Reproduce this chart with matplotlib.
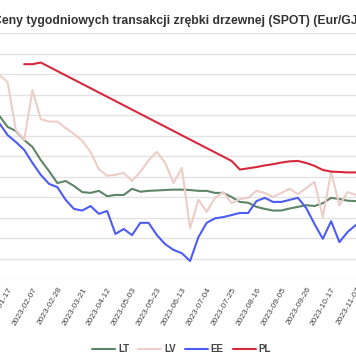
import numpy as np
import matplotlib
matplotlib.use("Agg")
import matplotlib.pyplot as plt

# Weekly categories (2023)
dates = ["2023-01-10", "2023-01-17", "2023-01-24", "2023-01-31", "2023-02-07",
         "2023-02-14", "2023-02-21", "2023-02-28", "2023-03-07", "2023-03-14",
         "2023-03-21", "2023-03-28", "2023-04-04", "2023-04-12", "2023-04-18",
         "2023-04-25", "2023-05-03", "2023-05-09", "2023-05-16", "2023-05-23",
         "2023-05-30", "2023-06-06", "2023-06-13", "2023-06-20", "2023-06-27",
         "2023-07-04", "2023-07-11", "2023-07-18", "2023-07-25", "2023-08-01",
         "2023-08-08", "2023-08-16", "2023-08-22", "2023-08-29", "2023-09-05",
         "2023-09-12", "2023-09-19", "2023-09-26", "2023-10-03", "2023-10-10",
         "2023-10-17", "2023-10-24", "2023-10-31", "2023-11-07"]

LT = [6.98, 6.71, 6.61, 6.39, 6.22, 5.90, 5.63, 5.34, 5.39, 5.27,
      5.12, 5.10, 5.15, 5.02, 5.05, 5.05, 5.20, 5.13, 5.15, 5.16,
      5.17, 5.18, 5.18, 5.17, 5.15, 5.15, 5.10, 5.10, 5.00, 4.88,
      4.86, 4.76, 4.71, 4.67, 4.67, 4.72, 4.76, 4.80, 4.78, 4.85,
      4.98, 4.95, 4.91, 4.90]

LV = [7.98, 7.80, 6.63, 6.39, 7.61, 6.90, 6.84, 6.84, 6.68, 6.54,
      6.37, 6.10, 5.68, 5.52, 5.54, 5.59, 5.39, 5.61, 5.90, 6.10,
      5.83, 5.34, 5.71, 4.24, 4.93, 4.64, 4.98, 5.12, 4.85, 4.95,
      4.98, 5.15, 5.10, 5.00, 5.10, 5.20, 5.07, 5.22, 5.37, 4.51,
      5.61, 4.80, 5.12, 5.05]

EE = [6.80, 6.51, 6.34, 6.15, 5.83, 5.54, 5.32, 5.24, 4.93, 4.71,
      4.67, 4.78, 4.59, 4.66, 4.10, 4.22, 4.07, 4.37, 4.37, 4.07,
      3.85, 3.71, 3.63, 3.44, 4.02, 4.37, 4.48, 4.51, 4.56, 4.61,
      4.61, 4.90, 4.98, 4.88, 4.88, 4.93, 4.98, 4.73, 4.34, 3.98,
      4.41, 3.90, 4.15, 4.32]

nan = np.nan
PL = [nan, nan, nan, 8.24, 8.24, 8.28, nan, nan, nan, nan,
      nan, nan, nan, nan, nan, nan, nan, nan, nan, nan,
      nan, nan, nan, nan, nan, nan, nan, nan, 5.88, 5.67,
      5.70, 5.73, 5.77, 5.80, 5.84, 5.87, 5.88, 5.83, 5.76, 5.66,
      5.62, 5.61, 5.60, 5.60]

series_names = ["LT", "LV", "EE", "PL"]
series_colors = ["#5f8567", "#eccdc7", "#4d5cf4", "#d62a3c"]

title = "Ceny tygodniowych transakcji zrębki drzewnej (SPOT) (Eur/GJ)"

fig = plt.figure(figsize=(3.56, 3.64), dpi=100)
ax = fig.add_axes([0.0, 0.2335, 1.0, 0.6758])

x = np.arange(len(dates))
for name, vals, col in zip(series_names, [LT, LV, EE, PL], series_colors):
    v = np.array(vals, dtype=float)
    m = ~np.isnan(v)
    ax.plot(x[m], v[m], color=col, lw=1.5, label=name, solid_capstyle="round",
            zorder=3)

ax.set_xlim(0.083, 42.31)
ax.set_ylim(3.0, 9.0)
ax.set_yticks(np.arange(3.0, 9.01, 0.5))
ax.yaxis.grid(True, color="#e3e3e3", lw=1.0)
ax.set_axisbelow(True)
ax.tick_params(axis="y", left=False, labelleft=False)
for s in ax.spines.values():
    s.set_visible(False)

tick_idx = list(range(1, len(dates), 3))
ax.set_xticks(tick_idx)
ax.set_xticklabels([dates[i] for i in tick_idx], rotation=60, ha="right",
                   rotation_mode="anchor", fontsize=6,
                   family=["Liberation Sans", "DejaVu Sans"], color="#444444")
ax.tick_params(axis="x", length=0, pad=5)

fig.text(0.497, 0.943, title, ha="center", va="center", fontsize=8.8,
         fontweight="bold", family=["Liberation Sans", "DejaVu Sans"],
         color="#333333")

leg = fig.legend(loc="center", bbox_to_anchor=(0.51, 0.041), ncol=4,
                 frameon=False, handlelength=2.4, handletextpad=0.3,
                 columnspacing=0.9,
                 prop={"family": ["Liberation Sans", "DejaVu Sans"],
                       "weight": "bold", "size": 7})
for t in leg.get_texts():
    t.set_color("#444444")

fig.savefig("out.png", dpi=100)
